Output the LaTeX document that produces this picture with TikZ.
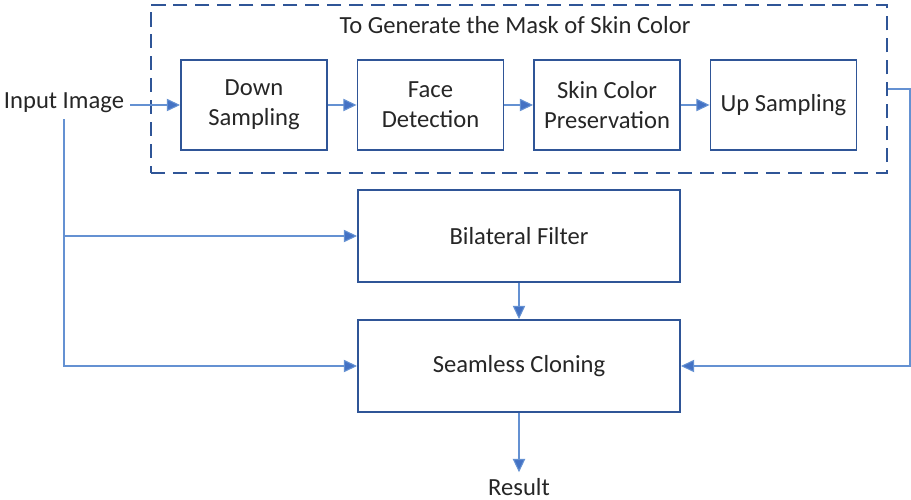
\documentclass[tikz,border=0pt]{standalone}
\usepackage{fontspec}
\setmainfont{Carlito}
\usepackage{tikz}
\usetikzlibrary{arrows.meta, positioning}

\definecolor{boxblue}{RGB}{47,85,151}
\definecolor{lineblue}{RGB}{100,145,210}
\definecolor{tipblue}{RGB}{68,114,196}

\tikzset{
  label text/.style={text=black!85, font=\fontsize{14}{17}\selectfont},
  block/.style={label text, draw=boxblue, line width=1.1pt, minimum width=2.92cm, minimum height=1.8cm, align=center},
  wideblock/.style={block, minimum width=6.44cm, minimum height=1.84cm},
  link/.style={draw=lineblue, line width=0.6pt},
  arr/.style={link, -{Triangle[length=7.5pt,width=7pt,fill=tipblue]}},
}

\begin{document}
\begin{tikzpicture}[node distance=3.53cm]
        \useasboundingbox (0,0) rectangle (18.22,-10);
        \node[draw=boxblue, line width=1.1pt, dash pattern=on 8pt off 4.5pt, minimum width=14.72cm, minimum height=3.36cm] (mask) at (10.38,-1.78) {};
        \node[label text] (title) at (10.3,-0.5) {To Generate the Mask of Skin Color};

        \node[block] (down) at (5.08,-2.1) {Down\\Sampling};
        \node[block] (face) [right of=down] {Face\\Detection};
        \node[block] (skin) [right of=face] {Skin Color\\Preservation};
        \node[block] (up) [right of=skin] {Up Sampling};

        \node[label text] (in) at (1.28,-2.06) {Input Image};
        \node[wideblock] (bf) at (10.38,-4.72) {Bilateral Filter};
        \node[wideblock] (sc) [below of=bf, node distance=2.6cm] {Seamless Cloning};
        \node[label text] (res) [below of=sc, node distance=2.42cm] {Result};
        \coordinate (turn) at (18.2,-1.78);

        \draw[arr] (in.east |- down) -- (down);
        \draw[arr] (down) -- (face);
        \draw[arr] (face) -- (skin);
        \draw[arr] (skin) -- (up);
        \draw[arr] (in) |- (sc);
        \draw[arr] (in.south |- bf) -- (bf);
        \draw[arr] (bf) -- (sc);
        \draw[arr] (sc) -- (res);
        \draw[arr] (mask.east) -- (turn) |- (sc);
  \end{tikzpicture}
\end{document}
